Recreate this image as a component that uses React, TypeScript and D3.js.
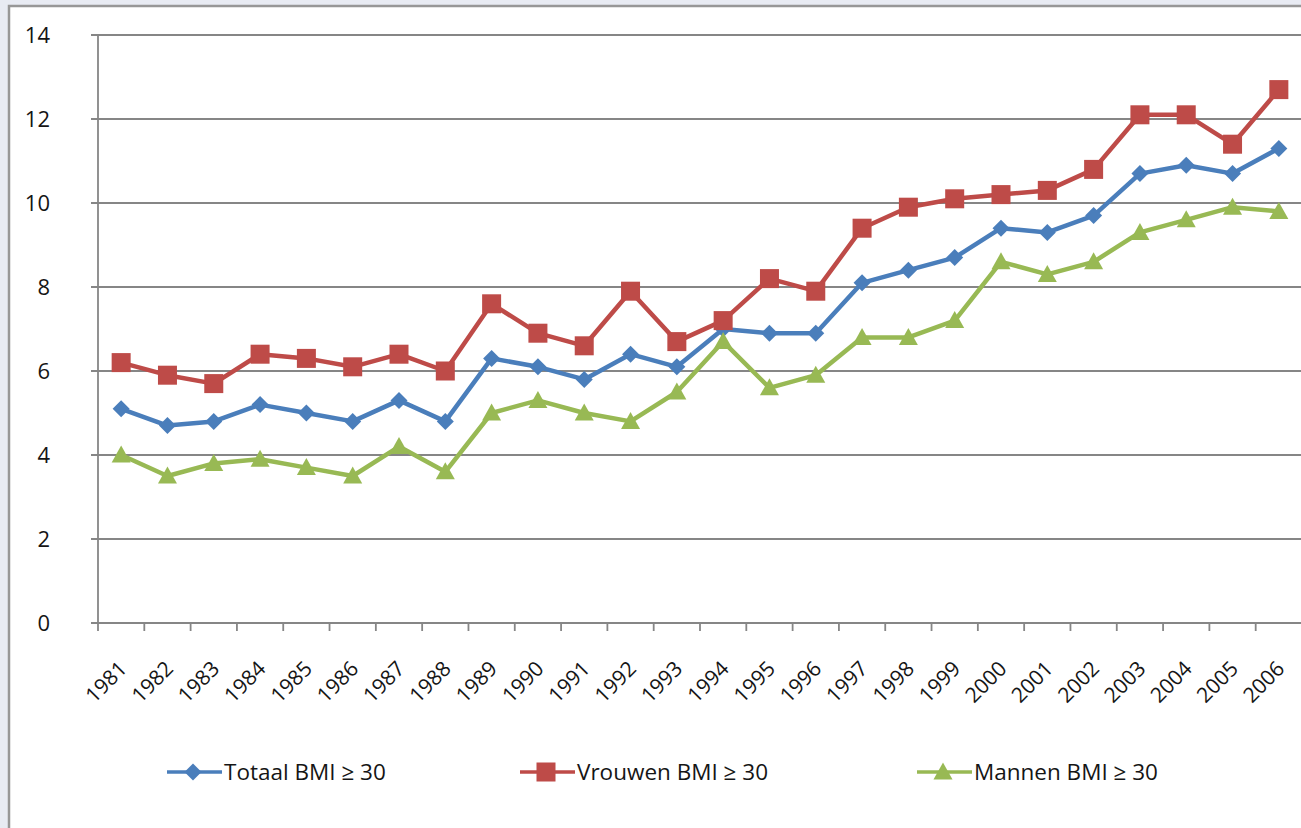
import React from 'react'
import * as d3 from 'd3'

// years on the x axis
const years = ['1981','1982','1983','1984','1985','1986','1987','1988','1989','1990','1991','1992','1993',
  '1994','1995','1996','1997','1998','1999','2000','2001','2002','2003','2004','2005','2006']

const totaal = [5.1,4.7,4.8,5.2,5.0,4.8,5.3,4.8,6.3,6.1,5.8,6.4,6.1,7.0,6.9,6.9,8.1,8.4,8.7,9.4,9.3,9.7,10.7,10.9,10.7,11.3]
const vrouwen = [6.2,5.9,5.7,6.4,6.3,6.1,6.4,6.0,7.6,6.9,6.6,7.9,6.7,7.2,8.2,7.9,9.4,9.9,10.1,10.2,10.3,10.8,12.1,12.1,11.4,12.7]
const mannen = [4.0,3.5,3.8,3.9,3.7,3.5,4.2,3.6,5.0,5.3,5.0,4.8,5.5,6.7,5.6,5.9,6.8,6.8,7.2,8.6,8.3,8.6,9.3,9.6,9.9,9.8]

const yTicks = [0,2,4,6,8,10,12,14]

const seriesNames = ['Totaal BMI \u2265 30', 'Vrouwen BMI \u2265 30', 'Mannen BMI \u2265 30']
const seriesColors = ['#4a7ebb', '#be4b48', '#98b954']
const seriesShapes = ['diamond', 'square', 'triangle']

const W = 1301
const H = 828
const left = 98
const top = 35
const bottom = 623
const right = 1302

const font = "'Open Sans', 'Noto Sans', sans-serif"

function Marker({ shape, x, y, color }: { shape: string, x: number, y: number, color: string }) {
  if (shape === 'diamond') {
    const s = 8.5
    return <path d={`M${x},${y - s}L${x + s},${y}L${x},${y + s}L${x - s},${y}Z`} fill={color} />
  }
  if (shape === 'square') {
    const s = 9.5
    return <rect x={x - s} y={y - s} width={s * 2} height={s * 2} fill={color} />
  }
  const s = 9.5
  return <path d={`M${x},${y - s}L${x + s},${y + s - 2}L${x - s},${y + s - 2}Z`} fill={color} />
}

export default function App() {
  const x = d3.scaleBand().domain(years).range([left, right])
  const y = d3.scaleLinear().domain([0, 14]).range([bottom, top])
  const cx = (yr: string) => (x(yr) as number) + x.bandwidth() / 2

  const allSeries = [totaal, vrouwen, mannen]
  const lineGen = d3.line<number>().x((_, i) => cx(years[i])).y(v => y(v))

  const legendX = [167, 520, 917]

  return (
    <svg width={W} height={H} style={{ position: 'absolute', left: 0, top: 0 }}>
      <rect x={0} y={0} width={W} height={H} fill="#e8ebf3" />
      <rect x={9} y={6} width={W + 10} height={H + 10} fill="#ffffff" stroke="#979797" strokeWidth={2.5} />

      {/* gridlines */}
      {yTicks.map(t => (
        <g key={t}>
          <line x1={left - 7} x2={W} y1={y(t)} y2={y(t)} stroke="#868686" strokeWidth={1.8} />
          <text x={50} y={y(t) + 8} textAnchor="end" fontFamily={font} fontSize={22} fill="#151515">{t}</text>
        </g>
      ))}
      <line x1={left} x2={left} y1={top} y2={bottom} stroke="#868686" strokeWidth={1.8} />

      {/* x ticks */}
      {years.map(yr => (
        <g key={yr}>
          <line x1={(x(yr) as number)} x2={(x(yr) as number)} y1={bottom} y2={bottom + 8} stroke="#868686" strokeWidth={1.8} />
          <text transform={`translate(${cx(yr) + 7},${bottom + 47}) rotate(-45)`} textAnchor="end" fontFamily={font} fontSize={21} fill="#151515">{yr}</text>
        </g>
      ))}

      {/* series */}
      {allSeries.map((s, k) => (
        <g key={k}>
          <path d={lineGen(s) || ''} fill="none" stroke={seriesColors[k]} strokeWidth={4.5} strokeLinejoin="round" />
          {s.map((v, i) => (
            <Marker key={i} shape={seriesShapes[k]} x={cx(years[i])} y={y(v)} color={seriesColors[k]} />
          ))}
        </g>
      ))}

      {/* legend */}
      {seriesNames.map((n, k) => (
        <g key={n}>
          <line x1={legendX[k]} x2={legendX[k] + 55} y1={772} y2={772} stroke={seriesColors[k]} strokeWidth={3.5} />
          <Marker shape={seriesShapes[k]} x={legendX[k] + 26} y={772} color={seriesColors[k]} />
          <text x={legendX[k] + 57} y={780} fontFamily={font} fontSize={22.5} fill="#151515">{n}</text>
        </g>
      ))}
    </svg>
  )
}
